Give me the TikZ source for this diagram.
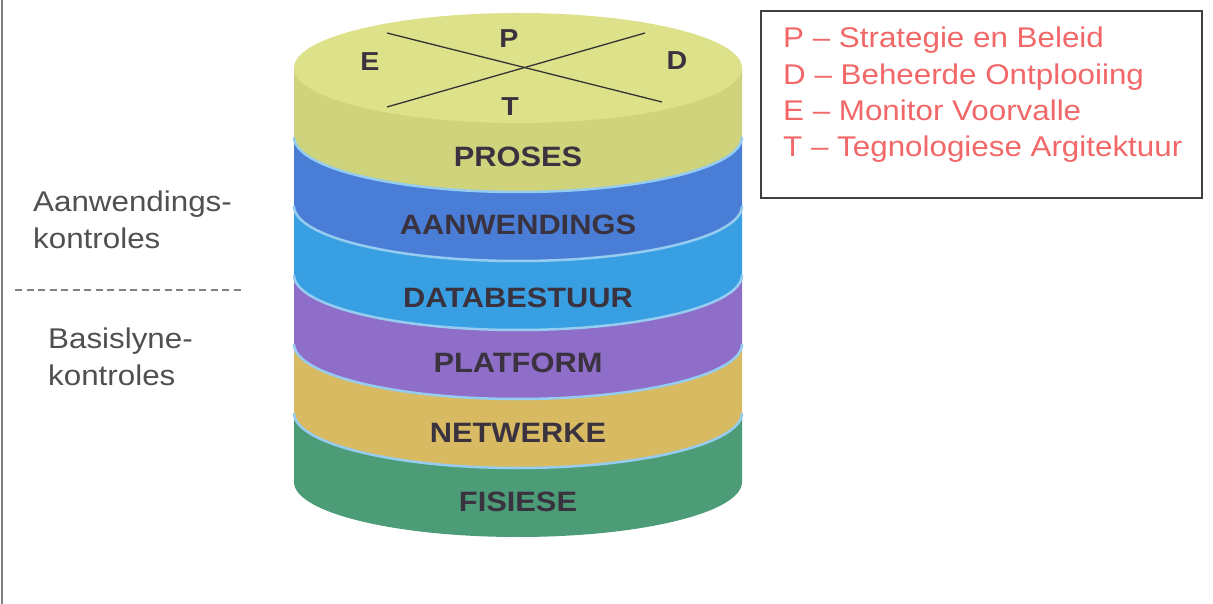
\documentclass[tikz,border=0pt]{standalone}
\usepackage{fontspec}
\setmainfont{Liberation Sans}[FakeStretch=1.1]
\definecolor{topface}{RGB}{220,225,138}
\definecolor{bandyellow}{RGB}{206,211,124}
\definecolor{bandblue}{RGB}{74,126,214}
\definecolor{bandcyan}{RGB}{56,160,226}
\definecolor{bandpurple}{RGB}{142,110,200}
\definecolor{bandorange}{RGB}{216,186,98}
\definecolor{bandgreen}{RGB}{76,156,120}
\definecolor{seplight}{RGB}{150,204,240}
\definecolor{labeltext}{RGB}{58,50,62}
\definecolor{legendred}{RGB}{242,104,104}
\definecolor{sidetext}{RGB}{80,80,80}
\begin{document}
\begin{tikzpicture}[x=1pt,y=-1pt,
  layerlabel/.style={font=\fontsize{28}{30}\selectfont\bfseries, text=labeltext, inner sep=0pt},
  facelabel/.style={font=\fontsize{26}{28}\selectfont\bfseries, text=labeltext, inner sep=0pt},
  sidelabel/.style={font=\fontsize{28.5}{37}\selectfont, text=sidetext, align=left, inner sep=0pt, anchor=north west},
  legendline/.style={font=\fontsize{28.5}{30}\selectfont, text=legendred, inner sep=0pt, anchor=base west},
  sepline/.style={draw=seplight, line width=2.5pt},
  crossline/.style={draw=black!80, line width=1.3pt}]
\useasboundingbox (0,0) rectangle (1213,604);
\fill[white] (0,0) rectangle (1213,604);
% page rule on the left
\draw[gray, line width=2pt] (2,0) -- (2,604);

% cylinder geometry: centre x, radii, top face centre and band height
\def\cx{518}\def\rx{224}\def\ry{55}
% one band: side strip from ellipse centre #2 down to #3, with a rounded front
\newcommand\cylband[3]{%
  \fill[#1] (\cx-\rx,#2) -- (\cx-\rx,#3)
    arc[start angle=180, end angle=360, x radius=\rx pt, y radius=\ry pt]
    -- (\cx+\rx,#2) -- cycle;}
\cylband{bandgreen}{413}{482}
\cylband{bandorange}{344}{413}
\cylband{bandpurple}{275}{344}
\cylband{bandcyan}{206}{275}
\cylband{bandblue}{137}{206}
\cylband{bandyellow}{68}{137}
\fill[topface] (\cx,68) ellipse[x radius=\rx pt, y radius=\ry pt];

% light seams between the bands
\foreach \yy in {137,206,275,344,413}
  \draw[sepline] (\cx-\rx,\yy) arc[start angle=180, end angle=360, x radius=\rx pt, y radius=\ry pt];

% cross on the top face
\coordinate (c1a) at (387,33);  \coordinate (c1b) at (662,102);
\coordinate (c2a) at (645,33);  \coordinate (c2b) at (387,107);
\draw[crossline] (c1a) -- (c1b);
\draw[crossline] (c2a) -- (c2b);
\node[facelabel] (fP) at (509,39) {P};
\node[facelabel] (fE) at (370,62) {E};
\node[facelabel] (fD) at (677,61) {D};
\node[facelabel] (fT) at (510,107) {T};

% band labels
\node[layerlabel] (lProses) at (\cx,157) {PROSES};
\node[layerlabel] (lAanw) at (\cx,225) {AANWENDINGS};
\node[layerlabel] (lData) at (\cx,298) {DATABESTUUR};
\node[layerlabel] (lPlat) at (\cx,363) {PLATFORM};
\node[layerlabel] (lNet) at (\cx,433) {NETWERKE};
\node[layerlabel] (lFis) at (\cx,502) {FISIESE};

% control groups on the left
\node[sidelabel] (sApp) at (33,191) {Aanwendings-\\kontroles};
\coordinate (dashL) at (15,290); \coordinate (dashR) at (242,290);
\draw[gray, line width=1.6pt, dash pattern=on 7pt off 4.5pt] (dashL) -- (dashR);
\node[sidelabel] (sBase) at (48,328) {Basislyne-\\kontroles};

% legend box
\node[draw=black!75, line width=2pt, minimum width=441pt, minimum height=187pt,
      anchor=north west, inner sep=0pt] (legend) at (760,10) {};
\node[legendline] (kP) at (783,48) {P – Strategie en Beleid};
\node[legendline] (kD) at (783,85) {D – Beheerde Ontplooiing};
\node[legendline] (kE) at (783,121) {E – Monitor Voorvalle};
\node[legendline] (kT) at (783,157) {T – Tegnologiese Argitektuur};
\end{tikzpicture}
\end{document}
